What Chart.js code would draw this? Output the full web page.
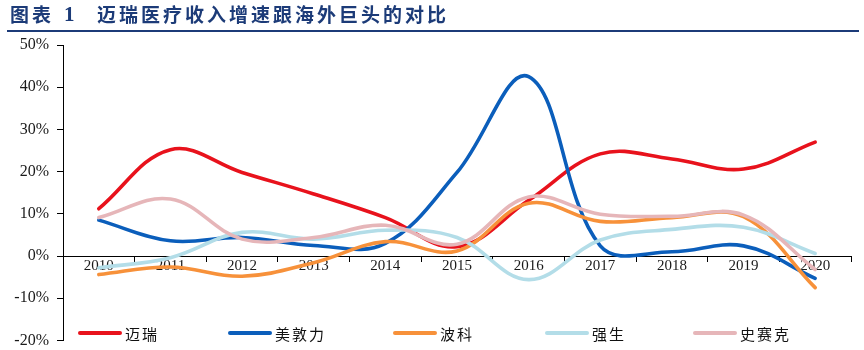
<!DOCTYPE html>
<html>
<head>
<meta charset="utf-8">
<script src="https://cdn.jsdelivr.net/npm/chart.js@4/dist/chart.umd.min.js"></script>
<style>
  html, body { margin: 0; padding: 0; background: #fff; }
  #wrap { position: relative; width: 864px; height: 350px; overflow: hidden; }
  #c { position: absolute; left: 0; top: 0; }
  .title { position: absolute; top: 1px; font-family: "Noto Sans CJK SC", sans-serif; font-weight: 700; color: #1c3b78; font-size: 19px; line-height: 26px; letter-spacing: 3px; white-space: nowrap; }
  .num { font-family: "Liberation Serif", serif; font-size: 21px; }
  #rule { position: absolute; left: 7px; top: 30px; width: 852px; height: 2px; background: #1c3b78; }
  .lg { position: absolute; top: 324px; height: 18px; display: flex; align-items: center; font-family: "Noto Sans CJK SC", sans-serif; font-size: 15px; letter-spacing: 2px; color: #111; white-space: nowrap; }
  .lg i { display: inline-block; width: 44px; height: 4px; margin-right: 3px; border-radius: 2px; }
</style>
</head>
<body>
<div id="wrap">
  <canvas id="c" width="864" height="358"></canvas>
  <div class="title" style="left:10px">图表</div>
  <div class="title num" style="left:64px">1</div>
  <div class="title" style="left:97px">迈瑞医疗收入增速跟海外巨头的对比</div>
  <div id="rule"></div>
  <div id="legend"></div>
</div>
<script>
// ---- data (growth rate, %) ----
const years = ['2010','2011','2012','2013','2014','2015','2016','2017','2018','2019','2020'];
const seriesNames = ['迈瑞','美敦力','波科','强生','史赛克'];
const mindray   = [11.2, 25.2, 19.8, 14.7,  9.1,  2.2, 13.2, 24.2, 23.0, 20.6, 27.0];
const medtronic = [ 8.5,  3.6,  4.4,  2.5,  3.0, 19.8, 42.5,  2.4,  1.0,  2.4, -5.3];
const bostonSci = [-4.4, -2.6, -4.8, -1.6,  3.4,  1.2, 12.5,  8.2,  9.1,  9.3, -7.5];
const jnj       = [-2.8, -0.4,  5.6,  4.0,  6.1,  4.4, -5.6,  3.8,  6.3,  6.8,  0.6];
const stryker   = [ 9.1, 13.5,  4.0,  4.4,  7.3,  2.8, 14.0,  9.9,  9.4,  9.7, -3.2];
const yTicks = [-20, -10, 0, 10, 20, 30, 40, 50];

const colors = ['#e8121c', '#0b5ebb', '#f7913a', '#b3dde8', '#e6b6b9'];
const allData = [mindray, medtronic, bostonSci, jnj, stryker];

// HTML legend
const legendX = [78, 228, 393, 545, 693];
const lgEl = document.getElementById('legend');
seriesNames.forEach((n, i) => {
  const d = document.createElement('div');
  d.className = 'lg';
  d.style.left = legendX[i] + 'px';
  d.innerHTML = '<i style="background:' + colors[i] + '"></i><span>' + n + '</span>';
  lgEl.appendChild(d);
});

const datasets = seriesNames.map((n, i) => ({
  label: n,
  data: allData[i],
  borderColor: colors[i],
  backgroundColor: colors[i],
  borderWidth: 3.6,
  pointRadius: 0,
  tension: 0.38,
  fill: false,
  order: 5 - i,
  borderCapStyle: 'round'
}));

const tickFont = { family: '"Liberation Serif", "Times New Roman", serif', size: 15 };

new Chart(document.getElementById('c'), {
  type: 'line',
  data: { labels: years, datasets },
  options: {
    responsive: false,
    animation: false,
    devicePixelRatio: 1,
    layout: { padding: { left: 0, right: 13, top: 45, bottom: 0 } },
    plugins: { legend: { display: false }, tooltip: { enabled: false }, title: { display: false } },
    scales: {
      x: {
        type: 'category',
        position: { y: 0 },
        offset: true,
        grid: { offset: true, drawOnChartArea: false, drawTicks: true, tickLength: 5, color: '#000', lineWidth: 1 },
        border: { display: true, color: '#000', width: 1 },
        ticks: { color: '#1a1a1a', font: tickFont, padding: -4, maxRotation: 0, autoSkip: false }
      },
      y: {
        min: -20, max: 50,
        afterFit: (s) => { s.width = 63; },
        afterBuildTicks: (s) => { s.ticks = yTicks.map(v => ({ value: v })); },
        grid: { drawOnChartArea: false, drawTicks: true, tickLength: 6, color: '#000', lineWidth: 1 },
        border: { display: true, color: '#000', width: 1 },
        ticks: { color: '#1a1a1a', font: { family: tickFont.family, size: 16 }, padding: 8, callback: (v) => v + '%' }
      }
    }
  }
});
</script>
</body>
</html>
